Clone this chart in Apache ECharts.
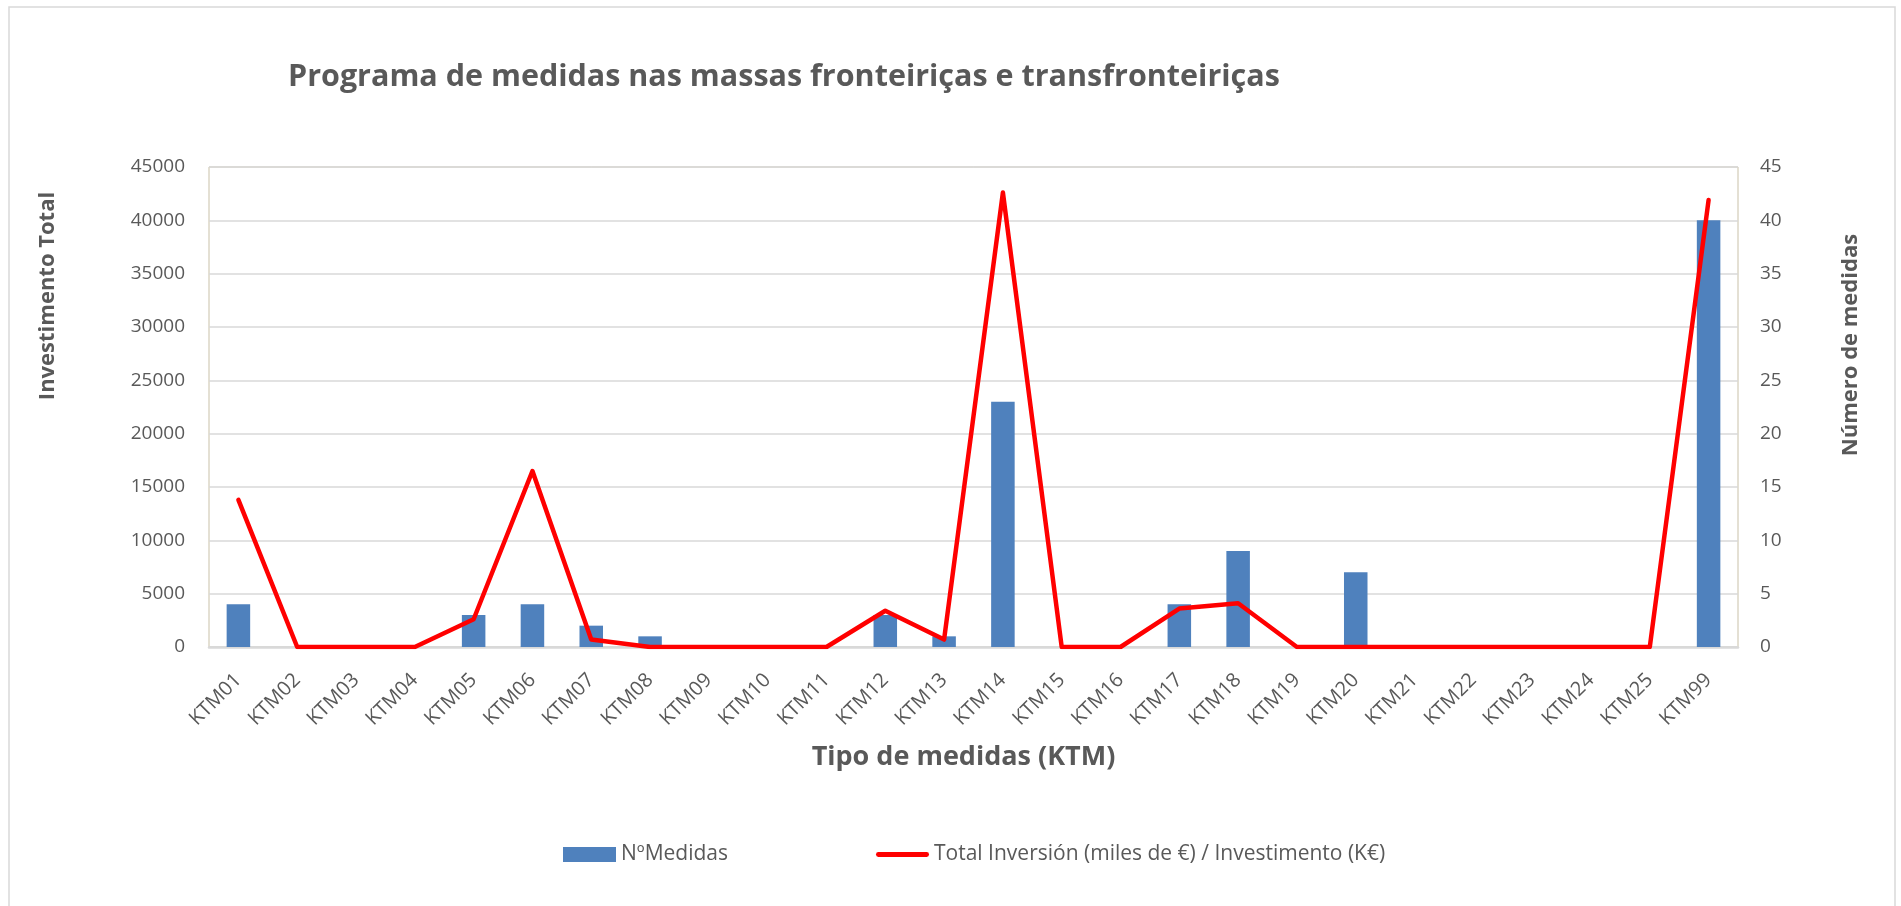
<!DOCTYPE html>
<html>
<head>
<meta charset="UTF-8">
<style>
html, body { margin: 0; padding: 0; background: #fff; }
#chart { width: 1901px; height: 906px; }
</style>
</head>
<body>
<div id="chart"></div>
<script src="https://cdn.jsdelivr.net/npm/echarts@6/dist/echarts.min.js"></script>
<script>
// dados
var categorias = ['KTM01', 'KTM02', 'KTM03', 'KTM04', 'KTM05', 'KTM06', 'KTM07', 'KTM08', 'KTM09',
	'KTM10', 'KTM11', 'KTM12', 'KTM13', 'KTM14', 'KTM15', 'KTM16', 'KTM17', 'KTM18', 'KTM19',
	'KTM20', 'KTM21', 'KTM22', 'KTM23', 'KTM24', 'KTM25', 'KTM99'];
var nMedidas = [4, 0, 0, 0, 3, 4, 2, 1, 0, 0, 0, 3, 1, 23, 0, 0, 4, 9, 0, 7, 0, 0, 0, 0, 0, 40];
var inversion = [13800, 0, 0, 0, 2600, 16500, 700, 0, 0, 0, 0, 3400, 700, 42600, 0, 0, 3600, 4100, 0, 0, 0, 0, 0, 0, 0, 41900];

var nomeBarras = 'NºMedidas';
var nomeLinha = 'Total Inversión (miles de €) / Investimento (K€)';
var font = '"Open Sans", sans-serif';
var cinza = '#595959';

var myChart = echarts.init(document.getElementById('chart'));

var option = {
	animation: false,
	backgroundColor: '#fff',
	title: {
		text: 'Programa de medidas nas massas fronteiriças e transfronteiriças',
		left: 283,
		top: 57,
		textStyle: { fontFamily: font, fontSize: 30.5, fontWeight: 'bold', color: cinza }
	},
	legend: {
		bottom: 36,
		left: 558,
		itemWidth: 53,
		itemHeight: 15,
		itemGap: 148,
		textStyle: { fontFamily: font, fontSize: 21, color: cinza },
		data: [
			{ name: nomeBarras, icon: 'rect' },
			{ name: nomeLinha, icon: 'path://M4.5,0 L95.5,0 A4.5,4.5 0 0 1 95.5,9 L4.5,9 A4.5,4.5 0 0 1 4.5,0 Z' }
		]
	},
	grid: {
		left: 209,
		right: 163,
		top: 167,
		bottom: 259,
		show: true,
		borderColor: '#c9c1a8',
		borderWidth: 1
	},
	xAxis: {
		type: 'category',
		data: categorias,
		name: 'Tipo de medidas (KTM)',
		nameLocation: 'middle',
		nameGap: 97,
		nameTextStyle: {
			fontFamily: font, fontSize: 27, fontWeight: 'bold', color: cinza,
			padding: [0, 20, 0, 0]
		},
		axisLine: { lineStyle: { color: '#d9d9d9', width: 2.5 } },
		axisTick: { show: false },
		axisLabel: { interval: 0, rotate: 45, margin: 30, fontFamily: font, fontSize: 20, color: cinza }
	},
	yAxis: [
		{
			type: 'value',
			min: 0,
			max: 45000,
			interval: 5000,
			axisLine: { show: false },
			axisTick: { show: false },
			axisLabel: {
				margin: 24, fontFamily: font, fontSize: 19, color: cinza,
				formatter: function (v) { return String(v); }
			},
			splitLine: { lineStyle: { color: '#d9d9d9', width: 1.5 } }
		},
		{
			type: 'value',
			min: 0,
			max: 45,
			interval: 5,
			axisLine: { show: false },
			axisTick: { show: false },
			axisLabel: { margin: 22, fontFamily: font, fontSize: 19, color: cinza },
			splitLine: { show: false }
		}
	],
	graphic: [
		{
			type: 'rect',
			silent: true,
			shape: { x: 9, y: 7, width: 1886, height: 910 },
			style: { fill: 'none', stroke: '#d9d9d9', lineWidth: 1.5 }
		},
		{
			type: 'text',
			x: 48,
			y: 296,
			rotation: Math.PI / 2,
			style: {
				text: 'Investimento Total', fill: cinza, fontFamily: font, fontSize: 22,
				fontWeight: 'bold', align: 'center', verticalAlign: 'middle'
			}
		},
		{
			type: 'text',
			x: 1851,
			y: 345,
			rotation: Math.PI / 2,
			style: {
				text: 'Número de medidas', fill: cinza, fontFamily: font, fontSize: 22,
				fontWeight: 'bold', align: 'center', verticalAlign: 'middle'
			}
		}
	],
	series: [
		{
			name: nomeBarras,
			type: 'bar',
			yAxisIndex: 1,
			data: nMedidas,
			barWidth: '40%',
			itemStyle: { color: '#4f81bd' }
		},
		{
			name: nomeLinha,
			type: 'line',
			yAxisIndex: 0,
			data: inversion,
			symbol: 'none',
			lineStyle: { color: '#ff0000', width: 4.5, join: 'round', cap: 'round' },
			itemStyle: { color: '#ff0000' }
		}
	]
};

myChart.setOption(option);
</script>
</body>
</html>
